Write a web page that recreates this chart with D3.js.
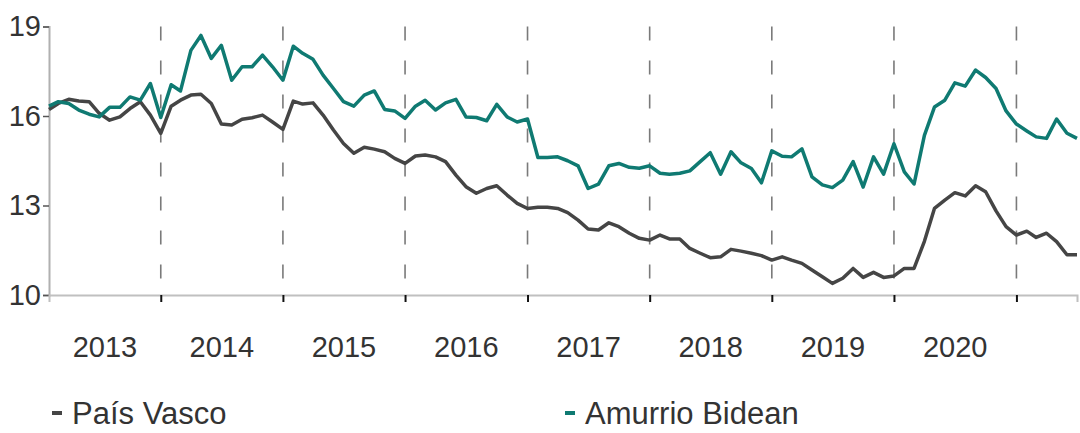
<!DOCTYPE html>
<html>
<head>
<meta charset="utf-8">
<script src="https://cdn.jsdelivr.net/npm/d3@7"></script>
<style>
  html, body { margin: 0; padding: 0; background: #fff; }
  svg { display: block; }
  text { font-family: "Liberation Sans", Arial, sans-serif; fill: #333; }
</style>
</head>
<body>
<svg id="chart" width="1080" height="433"></svg>
<script>
// ---- data (monthly, starting Feb 2013) ----
const startYear = 2013, startMonth = 1; // February (0-based)
const seriesNames = ["País Vasco", "Amurrio Bidean"];
const paisVasco = [
  16.22,16.42,16.56,16.50,16.48,16.09,15.86,15.97,16.25,16.48,16.03,
  15.42,16.33,16.53,16.70,16.73,16.42,15.73,15.70,15.89,15.94,16.03,15.80,
  15.55,16.50,16.40,16.44,16.03,15.53,15.08,14.75,14.95,14.89,14.80,14.58,
  14.41,14.66,14.69,14.63,14.47,14.02,13.63,13.41,13.57,13.66,13.35,13.07,
  12.90,12.94,12.94,12.90,12.76,12.51,12.21,12.18,12.42,12.29,12.07,11.90,
  11.84,12.01,11.88,11.88,11.56,11.40,11.25,11.28,11.53,11.47,11.40,11.32,
  11.17,11.28,11.17,11.06,10.84,10.61,10.39,10.56,10.89,10.59,10.76,10.59,
  10.64,10.89,10.89,11.80,12.90,13.18,13.43,13.32,13.66,13.46,12.82,12.29,
  12.01,12.14,11.93,12.07,11.79,11.35,11.35
];
const amurrioBidean = [
  16.33,16.48,16.42,16.20,16.06,15.97,16.29,16.29,16.64,16.53,17.09,
  15.95,17.05,16.84,18.20,18.70,17.93,18.37,17.20,17.65,17.65,18.04,17.65,
  17.20,18.34,18.10,17.90,17.37,16.92,16.48,16.33,16.70,16.84,16.22,16.17,
  15.92,16.33,16.53,16.20,16.44,16.56,15.97,15.95,15.84,16.39,15.97,15.80,
  15.90,14.61,14.61,14.63,14.50,14.33,13.57,13.72,14.33,14.41,14.28,14.25,
  14.33,14.08,14.05,14.08,14.16,14.47,14.77,14.05,14.80,14.43,14.24,13.76,
  14.83,14.65,14.63,14.90,13.96,13.69,13.60,13.85,14.47,13.62,14.63,14.05,
  15.07,14.13,13.72,15.35,16.30,16.53,17.11,17.00,17.54,17.29,16.92,16.17,
  15.73,15.50,15.30,15.25,15.90,15.42,15.25
];
const yTicks = [10, 13, 16, 19];
const yearLabels = ["2013","2014","2015","2016","2017","2018","2019","2020"];
const colors = ["#454545", "#0f7a72"];

// ---- layout ----
const svg = d3.select("#chart");
const mLeft = 49, mRight = 1077, mTop = 26.5, mBottom = 295;
const n = paisVasco.length;
const dates = d3.range(n).map(i => new Date(startYear, startMonth + i, 1));

const x = d3.scaleTime().domain([dates[0], dates[n - 1]]).range([mLeft, mRight]);
const y = d3.scaleLinear().domain([10, 19]).range([mBottom, mTop]);

const yearStarts = d3.range(startYear + 1, 2022).map(yr => new Date(yr, 0, 1));

// dashed year separators
svg.append("g").selectAll("line").data(yearStarts).join("line")
  .attr("x1", d => x(d)).attr("x2", d => x(d))
  .attr("y1", mTop).attr("y2", mBottom)
  .attr("stroke", "#7a7a7a").attr("stroke-width", 1.6)
  .attr("stroke-dasharray", "14,20");

// y axis
const yAxis = svg.append("g").attr("transform", `translate(${mLeft},0)`)
  .call(d3.axisLeft(y).tickValues(yTicks).tickSize(6).tickPadding(2).tickFormat(d3.format("d")));
yAxis.select(".domain").attr("stroke", "#b0b0b0").attr("stroke-width", 2);
yAxis.selectAll(".tick line").attr("stroke", "#555").attr("stroke-width", 1.5);
yAxis.selectAll(".tick text").style("font-size", "29px").attr("fill", "#333")
  .style("font-family", '"Liberation Sans", Arial, sans-serif');

// x axis
const xAxis = svg.append("g").attr("transform", `translate(0,${mBottom})`)
  .call(d3.axisBottom(x).tickValues(yearStarts).tickSize(7).tickFormat(""));
xAxis.select(".domain").attr("stroke", "#c0c0c0").attr("stroke-width", 2);
xAxis.selectAll(".tick line").attr("stroke", "#111").attr("stroke-width", 2);

// year labels centred on the visible part of each year
const d0 = x.domain()[0], d1 = x.domain()[1];
svg.append("g").selectAll("text").data(yearLabels).join("text")
  .attr("x", d => {
    const yr = +d;
    const a = Math.max(+new Date(yr, 0, 1), +d0);
    const b = Math.min(+new Date(yr + 1, 0, 1), +d1);
    return (x(new Date(a)) + x(new Date(b))) / 2;
  })
  .attr("y", 357)
  .attr("text-anchor", "middle")
  .style("font-size", "29px")
  .text(d => d);

// lines
const line = d3.line().x((d, i) => x(dates[i])).y(d => y(d));
[paisVasco, amurrioBidean].forEach((s, k) => {
  svg.append("path").datum(s)
    .attr("d", line)
    .attr("fill", "none")
    .attr("stroke", colors[k])
    .attr("stroke-width", 3.5)
    .attr("stroke-linejoin", "round");
});

// legend
const legendX = [52, 565];
const lg = svg.append("g").selectAll("g").data(seriesNames).join("g")
  .attr("transform", (d, i) => `translate(${legendX[i]},0)`);
lg.append("rect").attr("x", 0).attr("y", 411).attr("width", 10).attr("height", 4)
  .attr("fill", (d, i) => colors[i]);
lg.append("text").attr("x", 20).attr("y", 424).style("font-size", "31px").text(d => d);
</script>
</body>
</html>
